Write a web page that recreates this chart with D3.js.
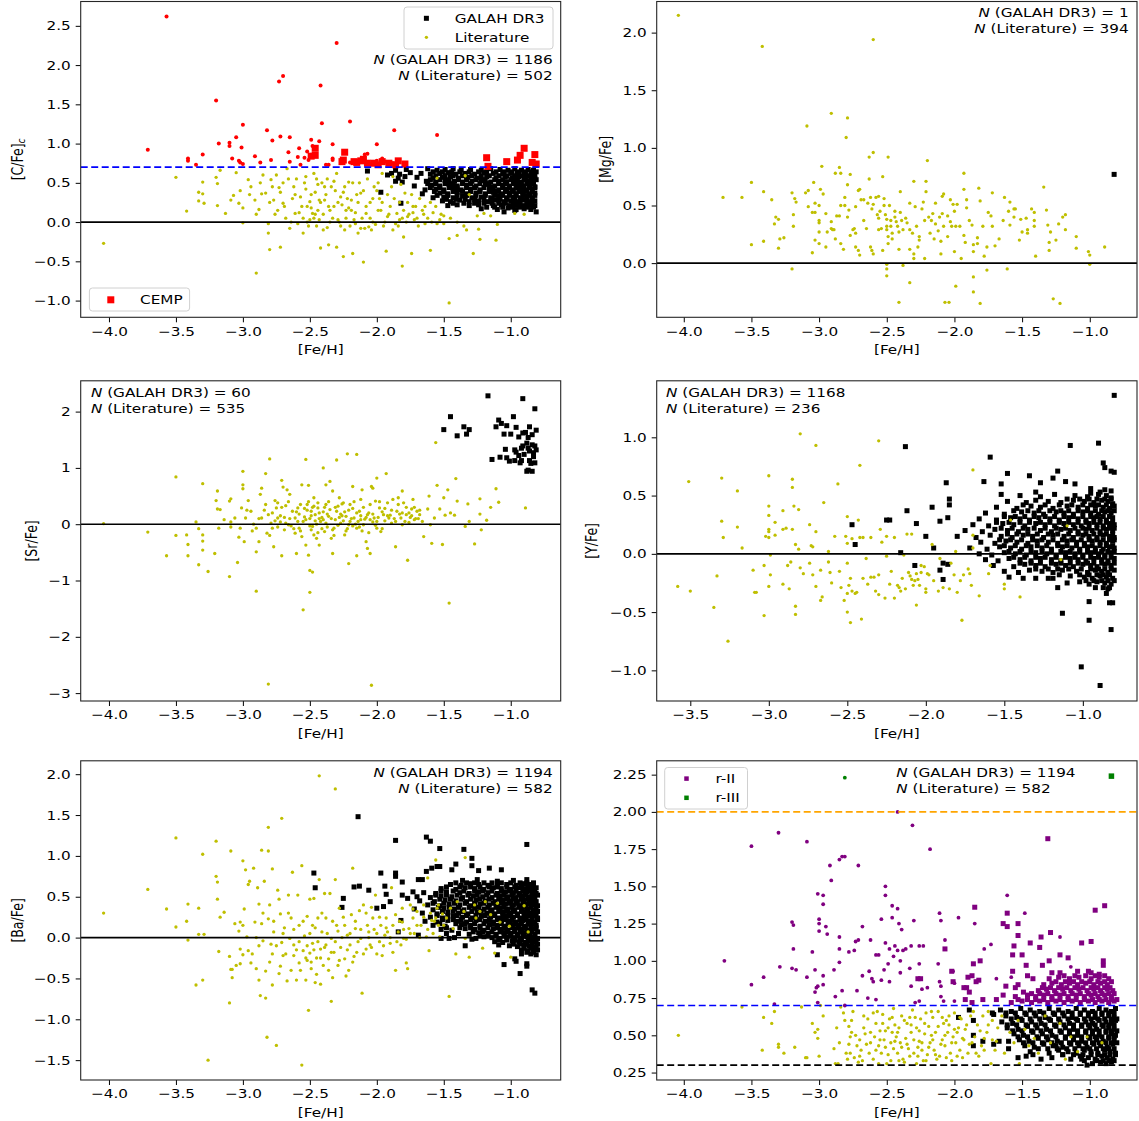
<!DOCTYPE html>
<html><head><meta charset="utf-8">
<script src="https://cdn.jsdelivr.net/npm/d3@7"></script>
<style>body{margin:0;background:#fff}svg{display:block}</style>
</head><body><svg id="chart" width="1139" height="1121"></svg>
<script>
// ---------------- DATA ([Fe/H], [X/Fe]) ----------------
const cYellow=[[-4.04,-0.27],[-3.50,0.57],[-3.30,0.51],[-3.33,0.38],[-3.30,0.36],[-3.33,0.27],[-3.29,0.24],[-3.42,0.14],[-3.20,0.57],[-3.19,0.49],[-3.19,0.21],[-3.17,0.66],[-3.13,0.11],[-3.09,0.28],[-3.07,0.34],[-3.05,0.63],[-3.03,0.24],[-3.02,0.40],[-3.00,-0.01],[-2.96,0.54],[-2.94,0.45],[-3.00,0.18],[-2.90,-0.65],[-2.91,0.28],[-2.88,0.16],[-2.87,0.50],[-2.86,0.36],[-2.81,-0.02],[-2.81,-0.14],[-2.83,0.37],[-2.80,-0.35],[-2.79,0.54],[-2.77,0.28],[-2.75,0.60],[-2.73,0.44],[-2.72,-0.32],[-2.70,0.24],[-2.67,0.68],[-2.65,-0.08],[-2.62,0.45],[-2.61,0.11],[-2.59,-0.02],[-2.57,0.32],[-2.55,-0.14],[-2.53,0.58],[-2.52,0.20],[-2.50,0.26],[-2.50,0.03],[-2.48,0.11],[-2.47,0.62],[-2.46,0.38],[-2.44,0.15],[-2.43,0.03],[-2.42,-0.33],[-2.41,0.50],[-2.39,0.28],[-2.37,-0.07],[-2.36,-0.29],[-2.34,0.45],[-2.32,0.20],[-2.30,-0.32],[-2.29,0.03],[-2.27,0.32],[-2.25,-0.44],[-2.24,-0.10],[-2.23,0.15],[-2.21,0.51],[-2.19,0.28],[-2.18,-0.40],[-2.17,0.03],[-2.14,-0.14],[-2.12,0.37],[-2.10,-0.51],[-2.08,0.11],[-2.06,-0.06],[-2.04,-0.10],[-2.02,0.45],[-1.99,0.15],[-1.96,0.62],[-1.93,-0.37],[-1.92,0.07],[-1.89,0.45],[-1.88,-0.10],[-1.85,0.11],[-1.83,0.03],[-1.81,-0.56],[-1.80,-0.19],[-1.79,0.37],[-1.77,0.07],[-1.74,-0.40],[-1.73,0.20],[-1.72,0.03],[-1.66,0.15],[-1.64,-0.02],[-1.60,-0.36],[-1.56,0.20],[-1.53,0.03],[-1.50,-0.02],[-1.46,-0.21],[-1.46,-1.03],[-1.40,-0.17],[-1.33,-0.10],[-1.31,0.35],[-1.28,-0.40],[-1.24,-0.09],[-1.23,-0.22],[-1.20,0.11],[-1.11,-0.23],[-1.10,-0.03],[-0.97,0.11],[-1.34,0.59],[-1.55,0.56],[-2.55,0.05],[-2.52,0.00],[-2.47,0.05],[-2.45,-0.05],[-2.40,0.10],[-2.38,0.35],[-2.35,0.15],[-2.31,0.40],[-2.28,0.00],[-2.26,0.22],[-2.22,0.30],[-2.20,-0.05],[-2.16,0.12],[-2.13,0.50],[-2.11,0.05],[-2.09,-0.08],[-2.05,0.25],[-2.03,0.00],[-1.98,0.30],[-1.95,-0.05],[-1.90,0.20],[-1.86,-0.02],[-1.83,0.25],[-1.78,0.00],[-1.76,0.10],[-1.70,0.05],[-1.68,0.30],[-1.62,0.05],[-1.58,0.12],[-1.55,-0.02],[-1.50,0.08],[-2.95,0.35],[-2.90,0.10],[-2.85,0.60],[-2.78,0.45],[-2.74,0.15],[-2.70,0.50],[-2.68,0.05],[-2.63,0.30],[-2.60,0.55],[-2.58,0.12],[-2.53,0.42],[-2.49,0.18],[-2.44,0.48],[-2.42,0.25],[-2.37,0.55],[-2.33,0.05],[-2.30,0.62],[-2.24,0.45],[-2.19,0.15],[-2.15,0.35],[-2.07,0.55],[-2.00,0.40],[-1.97,0.15],[-1.92,0.35],[-1.88,0.58],[-1.82,0.48],[-1.80,0.15],[-1.74,0.35],[-1.71,0.20],[-1.65,0.10],[-1.60,0.25],[-1.52,0.10],[-1.45,0.05],[-1.40,0.00],[-1.35,-0.05],[-1.25,0.08],[-1.15,0.08],[-0.90,0.10]];
const cYellowMore=[[-2.80,0.25],[-2.76,0.10],[-2.72,0.38],[-2.69,0.20],[-2.66,0.55],[-2.64,0.00],[-2.61,0.35],[-2.56,0.20],[-2.54,0.50],[-2.51,-0.05],[-2.49,0.35],[-2.46,0.10],[-2.45,0.55],[-2.43,0.28],[-2.40,-0.10],[-2.39,0.45],[-2.36,0.20],[-2.35,0.00],[-2.32,0.52],[-2.29,0.25],[-2.27,-0.05],[-2.25,0.38],[-2.23,0.05],[-2.21,0.18],[-2.18,0.50],[-2.16,-0.02],[-2.14,0.25],[-2.12,-0.08],[-2.10,0.40],[-2.08,0.20],[-2.05,0.05],[-2.03,0.30],[-2.01,-0.03],[-1.99,0.50],[-1.96,0.25],[-1.94,0.00],[-1.91,0.10],[-1.87,0.30],[-1.84,-0.05],[-1.81,0.05],[-1.77,0.25],[-1.73,0.12],[-1.69,-0.05],[-1.64,0.20],[-1.59,0.00]];
const cBlack=[[-1.86,0.66],[-1.78,0.67],[-1.62,0.68],[-1.55,0.66],[-1.49,0.67],[-1.43,0.68],[-1.37,0.66],[-1.30,0.67],[-1.22,0.66],[-1.15,0.68],[-1.08,0.67],[-1.02,0.66],[-0.97,0.68],[-0.92,0.66],[-0.87,0.67],[-0.83,0.66],
[-1.89,0.62],[-1.83,0.61],[-1.75,0.63],[-1.67,0.62],[-1.60,0.61],[-1.53,0.62],[-1.47,0.63],[-1.41,0.61],[-1.34,0.62],[-1.27,0.61],[-1.20,0.63],[-1.13,0.62],[-1.06,0.61],[-1.00,0.62],[-0.95,0.63],[-0.90,0.61],[-0.85,0.62],[-0.82,0.60],
[-1.84,0.56],[-1.79,0.58],[-1.70,0.57],[-1.58,0.56],[-1.51,0.57],[-1.45,0.58],[-1.39,0.56],[-1.32,0.57],[-1.25,0.56],[-1.18,0.58],[-1.11,0.56],[-1.04,0.57],[-0.99,0.56],[-0.94,0.58],[-0.89,0.56],[-0.85,0.57],[-0.82,0.55],
[-1.81,0.51],[-1.63,0.52],[-1.56,0.51],[-1.49,0.53],[-1.42,0.52],[-1.36,0.51],[-1.29,0.52],[-1.22,0.53],[-1.15,0.51],[-1.09,0.52],[-1.03,0.51],[-0.97,0.53],[-0.92,0.51],[-0.87,0.52],[-0.83,0.50],
[-1.72,0.46],[-1.59,0.47],[-1.53,0.46],[-1.46,0.48],[-1.40,0.46],[-1.33,0.47],[-1.26,0.46],[-1.19,0.48],[-1.12,0.46],[-1.06,0.47],[-1.01,0.46],[-0.95,0.48],[-0.90,0.46],[-0.86,0.47],[-0.82,0.45],
[-1.64,0.41],[-1.56,0.42],[-1.50,0.41],[-1.43,0.43],[-1.37,0.41],[-1.30,0.42],[-1.23,0.41],[-1.16,0.43],[-1.09,0.41],[-1.03,0.42],[-0.98,0.41],[-0.93,0.43],[-0.88,0.41],[-0.84,0.42],
[-1.66,0.36],[-1.53,0.37],[-1.47,0.36],[-1.40,0.38],[-1.33,0.36],[-1.26,0.37],[-1.19,0.36],[-1.13,0.38],[-1.07,0.36],[-1.01,0.37],[-0.96,0.36],[-0.91,0.38],[-0.86,0.36],[-0.82,0.37],
[-1.58,0.31],[-1.50,0.32],[-1.43,0.31],[-1.36,0.33],[-1.29,0.31],[-1.22,0.32],[-1.15,0.31],[-1.09,0.33],[-1.03,0.31],[-0.98,0.32],[-0.93,0.31],[-0.88,0.33],[-0.84,0.31],
[-1.51,0.27],[-1.45,0.26],[-1.38,0.28],[-1.31,0.26],[-1.24,0.27],[-1.17,0.26],[-1.11,0.28],[-1.05,0.26],[-1.00,0.27],[-0.95,0.26],[-0.90,0.28],[-0.86,0.26],[-0.82,0.27],
[-1.47,0.21],[-1.40,0.22],[-1.31,0.21],[-1.24,0.22],[-1.13,0.21],[-1.07,0.22],[-1.01,0.21],[-0.96,0.22],[-0.91,0.21],[-0.86,0.22],[-0.82,0.21],
[-1.22,0.17],[-1.10,0.16],[-1.02,0.18],[-0.96,0.16],[-0.90,0.17],[-0.85,0.16],[-1.05,0.13],[-0.81,0.13],[-0.97,0.15],[-1.97,0.38],[-1.82,0.24],[-2.07,0.65],[-1.92,0.60],[-1.86,0.52]];
const cBlackFill=[[-1.58,0.64],[-1.51,0.64],[-1.44,0.64],[-1.38,0.64],[-1.31,0.64],[-1.24,0.64],[-1.18,0.64],[-1.11,0.64],[-1.05,0.64],[-0.99,0.64],[-0.94,0.64],[-0.89,0.64],[-0.84,0.64],[-0.81,0.64],
[-1.56,0.59],[-1.49,0.59],[-1.43,0.59],[-1.36,0.59],[-1.29,0.59],[-1.22,0.59],[-1.16,0.59],[-1.09,0.59],[-1.03,0.59],[-0.97,0.59],[-0.92,0.59],[-0.87,0.59],[-0.83,0.59],
[-1.60,0.54],[-1.53,0.54],[-1.46,0.54],[-1.39,0.54],[-1.33,0.54],[-1.26,0.54],[-1.19,0.54],[-1.12,0.54],[-1.06,0.54],[-1.00,0.54],[-0.95,0.54],[-0.90,0.54],[-0.85,0.54],[-0.81,0.54],
[-1.62,0.49],[-1.56,0.49],[-1.49,0.49],[-1.43,0.49],[-1.36,0.49],[-1.30,0.49],[-1.23,0.49],[-1.16,0.49],[-1.09,0.49],[-1.04,0.49],[-0.98,0.49],[-0.93,0.49],[-0.88,0.49],[-0.84,0.49],
[-1.60,0.44],[-1.53,0.44],[-1.46,0.44],[-1.40,0.44],[-1.33,0.44],[-1.27,0.44],[-1.20,0.44],[-1.13,0.44],[-1.06,0.44],[-1.01,0.44],[-0.96,0.44],[-0.91,0.44],[-0.86,0.44],[-0.82,0.44],
[-1.57,0.39],[-1.50,0.39],[-1.43,0.39],[-1.36,0.39],[-1.30,0.39],[-1.23,0.39],[-1.16,0.39],[-1.10,0.39],[-1.04,0.39],[-0.99,0.39],[-0.94,0.39],[-0.89,0.39],[-0.84,0.39],
[-1.55,0.34],[-1.47,0.34],[-1.40,0.34],[-1.33,0.34],[-1.26,0.34],[-1.19,0.34],[-1.12,0.34],[-1.06,0.34],[-1.01,0.34],[-0.96,0.34],[-0.91,0.34],[-0.86,0.34],[-0.82,0.34],
[-1.48,0.29],[-1.41,0.29],[-1.34,0.29],[-1.27,0.29],[-1.20,0.29],[-1.14,0.29],[-1.08,0.29],[-1.03,0.29],[-0.97,0.29],[-0.92,0.29],[-0.88,0.29],[-0.84,0.29],
[-1.43,0.24],[-1.35,0.24],[-1.27,0.24],[-1.20,0.24],[-1.14,0.24],[-1.09,0.24],[-1.04,0.24],[-0.98,0.24],[-0.93,0.24],[-0.88,0.24],[-0.84,0.24],
[-1.18,0.19],[-1.12,0.19],[-1.06,0.19],[-0.99,0.19],[-0.93,0.19],[-0.88,0.19],[-0.83,0.19]];
const cRedLit=[[-3.57,2.62],[-2.30,2.28],[-2.70,1.86],[-2.73,1.79],[-2.42,1.74],[-3.20,1.55],[-2.20,1.28],[-2.41,1.26],[-3.00,1.24],[-1.87,1.17],[-2.82,1.17],[-1.55,1.11],[-3.05,1.08],[-2.72,1.09],[-2.65,1.08],[-2.49,1.05],[-2.43,1.03],[-2.78,1.04],[-3.71,0.92],[-3.18,1.00],[-3.10,1.01],[-3.10,0.97],[-3.01,0.95],[-2.33,0.99],[-2.00,0.99],[-2.48,0.97],[-2.58,0.94],[-2.52,0.90],[-2.66,0.89],[-3.30,0.86],[-2.91,0.84],[-3.08,0.81],[-3.41,0.81],[-3.41,0.78],[-3.03,0.78],[-3.02,0.76],[-2.87,0.76],[-2.79,0.79],[-2.65,0.77],[-2.59,0.83],[-2.54,0.82],[-2.51,0.79],[-3.00,0.74],[-3.35,0.73],[-2.57,0.73],[-2.38,0.73],[-2.36,0.73],[-2.33,0.79],[-2.33,0.81],[-2.09,0.86],[-2.07,0.87],[-1.96,0.81],[-1.88,0.75],[-2.20,0.76],[-2.14,0.78],[-2.04,0.74],[-2.00,0.78],[-1.93,0.77]];
const cRedGalah=[[-2.46,0.94],[-2.46,0.85],[-2.49,0.84],[-2.24,0.89],[-2.25,0.79],[-2.26,0.77],[-2.17,0.77],[-2.12,0.78],[-2.07,0.75],[-2.02,0.75],[-1.96,0.77],[-1.91,0.75],[-1.84,0.78],[-1.79,0.74],[-1.18,0.82],[-1.17,0.71],[-1.03,0.77],[-0.95,0.79],[-0.93,0.85],[-0.90,0.94],[-0.82,0.86],[-0.84,0.76],[-0.81,0.74],[-2.10,0.80],[-2.15,0.76],[-1.99,0.73],[-1.86,0.73]];

const mgYellow=[[-4.04,2.15],[-3.42,1.88],[-2.60,1.94],[-2.91,1.30],[-2.79,1.26],[-3.09,1.19],[-2.80,1.09],[-2.60,0.96],[-2.63,0.92],[-2.49,0.92],[-2.20,0.89],[-2.98,0.84],[-2.85,0.83],[-2.88,0.78],[-2.84,0.78],[-2.77,0.77],[-1.93,0.78],[-2.63,0.73],[-2.53,0.75],[-2.30,0.71],[-2.21,0.71],[-3.50,0.70],[-3.04,0.70],[-1.34,0.66],[-3.71,0.57],[-3.57,0.57],[-3.41,0.62],[-3.35,0.55],[-3.20,0.61],[-3.18,0.56],[-3.17,0.53],[-3.32,0.40],[-3.30,0.38],[-3.33,0.34],[-3.29,0.21],[-3.26,0.22],[-3.30,0.13],[-3.41,0.19],[-3.50,0.16],[-3.19,0.42],[-3.19,0.32],[-3.20,-0.05],[-3.10,0.61],[-3.08,0.63],[-3.08,0.49],[-3.05,0.44],[-3.03,0.44],[-3.03,0.52],[-3.00,0.50],[-2.99,0.64],[-2.97,0.60],[-3.00,0.37],[-3.00,0.35],[-3.00,0.27],[-3.00,0.17],[-3.05,0.09],[-3.03,0.20],[-2.95,0.43],[-2.95,0.14],[-2.94,0.27],[-2.91,0.36],[-2.91,0.30],[-2.90,0.29],[-2.89,0.29],[-2.88,0.21],[-2.87,0.41],[-2.85,0.41],[-2.84,0.17],[-2.82,0.12],[-2.84,0.50],[-2.81,0.50],[-2.81,0.57],[-2.79,0.68],[-2.79,0.40],[-2.78,0.46],[-2.77,0.24],[-2.75,0.29],[-2.74,0.30],[-2.73,0.26],[-2.73,0.14],[-2.71,0.11],[-2.70,0.07],[-2.73,0.49],[-2.71,0.63],[-2.70,0.64],[-2.69,0.55],[-2.67,0.55],[-2.67,0.37],[-2.65,0.30],[-2.64,0.52],[-2.62,0.57],[-2.61,0.47],[-2.60,0.51],[-2.62,0.14],[-2.61,0.11],[-2.60,0.08],[-2.58,0.57],[-2.56,0.58],[-2.57,0.42],[-2.56,0.39],[-2.56,0.29],[-2.55,0.45],[-2.54,0.30],[-2.53,0.11],[-2.52,0.56],[-2.52,0.50],[-2.51,0.42],[-2.50,0.38],[-2.50,0.32],[-2.50,0.29],[-2.49,0.23],[-2.49,0.17],[-2.50,-0.01],[-2.50,-0.05],[-2.50,-0.11],[-2.48,0.50],[-2.47,0.37],[-2.47,0.32],[-2.46,0.26],[-2.46,0.21],[-2.44,0.45],[-2.44,0.40],[-2.43,0.36],[-2.42,0.32],[-2.41,0.27],[-2.41,0.12],[-2.41,-0.34],[-2.40,0.62],[-2.40,0.44],[-2.39,0.37],[-2.38,0.29],[-2.38,-0.02],[-2.36,0.39],[-2.35,0.35],[-2.33,0.12],[-2.33,-0.17],[-2.33,0.52],[-2.33,0.29],[-2.31,0.26],[-2.30,0.08],[-2.30,0.04],[-2.29,0.49],[-2.28,0.32],[-2.27,0.14],[-2.26,0.23],[-2.26,0.20],[-2.24,0.47],[-2.23,0.53],[-2.22,0.04],[-2.22,0.37],[-2.21,0.62],[-2.19,0.40],[-2.18,0.26],[-2.17,0.37],[-2.16,0.43],[-2.15,0.21],[-2.14,0.52],[-2.14,0.34],[-2.12,0.28],[-2.11,0.40],[-2.10,0.19],[-2.10,0.08],[-2.09,0.58],[-2.09,0.43],[-2.08,0.60],[-2.08,0.32],[-2.07,-0.34],[-2.04,-0.34],[-2.05,0.41],[-2.05,0.23],[-2.03,0.55],[-2.03,0.36],[-2.02,0.32],[-2.01,0.51],[-2.00,0.45],[-2.00,0.10],[-1.99,-0.20],[-1.99,0.32],[-1.98,0.51],[-1.96,0.32],[-1.95,0.04],[-1.93,0.24],[-1.93,0.64],[-1.92,0.18],[-1.91,0.55],[-1.91,0.48],[-1.89,0.37],[-1.87,0.33],[-1.86,0.16],[-1.86,0.10],[-1.86,-0.12],[-1.86,-0.25],[-1.83,0.17],[-1.83,0.22],[-1.82,0.65],[-1.81,0.54],[-1.81,-0.35],[-1.79,0.32],[-1.78,0.06],[-1.76,-0.06],[-1.76,0.14],[-1.75,0.44],[-1.73,0.41],[-1.72,0.61],[-1.72,0.32],[-1.70,0.15],[-1.67,0.21],[-1.64,0.37],[-1.63,0.57],[-1.61,-0.05],[-1.60,0.45],[-1.59,0.53],[-1.59,0.33],[-1.56,0.47],[-1.56,0.40],[-1.55,0.47],[-1.52,0.20],[-1.51,0.38],[-1.50,0.27],[-1.47,0.39],[-1.46,0.26],[-1.46,0.29],[-1.43,0.47],[-1.41,0.37],[-1.40,0.06],[-1.41,0.44],[-1.41,0.32],[-1.32,0.46],[-1.31,0.33],[-1.30,0.18],[-1.30,0.11],[-1.29,0.27],[-1.27,-0.31],[-1.25,0.20],[-1.23,0.34],[-1.22,-0.35],[-1.20,0.40],[-1.18,0.42],[-1.18,0.29],[-1.10,0.23],[-1.10,0.13],[-1.01,0.10],[-1.00,0.07],[-1.00,-0.01],[-0.89,0.14]];
const mgBlack=[[-0.82,0.77]];

const srYellow=[[-4.04,0.01],[-3.71,-0.14],[-3.50,0.84],[-3.50,-0.20],[-3.57,-0.56],[-3.42,-0.19],[-3.41,-0.36],[-3.41,-0.56],[-3.35,0.04],[-3.33,-0.08],[-3.33,-0.72],[-3.30,0.72],[-3.30,-0.19],[-3.30,-0.30],[-3.30,-0.46],[-3.26,-0.84],[-3.21,-0.52],[-3.19,0.59],[-3.20,0.42],[-3.19,0.27],[-3.17,0.26],[-3.18,-0.07],[-3.14,0.08],[-3.10,-0.93],[-3.10,0.41],[-3.09,0.45],[-3.09,0.04],[-3.09,-0.05],[-3.04,-0.68],[-3.06,0.11],[-3.03,-0.23],[-3.02,-0.07],[-3.00,0.94],[-3.00,0.70],[-3.00,0.63],[-3.01,0.29],[-2.99,-0.31],[-2.98,0.11],[-2.96,0.42],[-2.94,0.23],[-2.92,0.00],[-2.90,-0.49],[-2.90,-1.19],[-2.90,-0.07],[-2.88,-0.31],[-2.87,0.53],[-2.86,0.64],[-2.86,0.11],[-2.83,0.35],[-2.83,0.90],[-2.82,-0.16],[-2.81,-2.84],[-2.80,1.16],[-2.81,0.17],[-2.79,0.02],[-2.78,-0.07],[-2.77,-0.40],[-2.75,0.29],[-2.74,0.38],[-2.74,0.11],[-2.72,0.04],[-2.71,-0.56],[-2.71,0.78],[-2.70,0.66],[-2.69,-0.10],[-2.68,0.33],[-2.67,0.61],[-2.66,-0.01],[-2.65,0.53],[-2.63,0.23],[-2.61,-0.16],[-2.61,0.11],[-2.60,-0.52],[-2.59,0.29],[-2.58,-0.07],[-2.56,0.70],[-2.54,0.13],[-2.53,1.15],[-2.53,-0.37],[-2.52,0.35],[-2.51,-0.55],[-2.51,0.69],[-2.50,-0.82],[-2.50,-1.21],[-2.49,0.23],[-2.48,-0.04],[-2.48,-0.85],[-2.47,-0.19],[-2.47,0.47],[-2.46,0.17],[-2.55,-1.52],[-2.44,0.29],[-2.43,-0.37],[-2.42,0.05],[-2.40,1.00],[-2.39,-0.13],[-2.38,0.35],[-2.38,0.70],[-2.36,0.14],[-2.35,0.76],[-2.34,-0.25],[-2.33,0.59],[-2.33,-0.52],[-2.32,-0.07],[-2.30,1.14],[-2.30,0.23],[-2.28,0.47],[-2.27,0.02],[-2.25,0.38],[-2.24,-0.19],[-2.22,1.25],[-2.23,0.14],[-2.21,-0.70],[-2.21,-0.01],[-2.20,0.35],[-2.18,0.67],[-2.17,0.11],[-2.15,1.24],[-2.15,-0.56],[-2.15,-0.07],[-2.13,0.23],[-2.12,0.44],[-2.11,0.61],[-2.10,-0.01],[-2.08,-0.31],[-2.07,0.17],[-2.07,-0.43],[-2.05,-0.52],[-2.04,-2.86],[-2.04,0.67],[-2.03,0.64],[-2.02,0.11],[-2.01,0.41],[-2.00,0.82],[-2.00,-0.07],[-1.98,0.29],[-1.97,-0.13],[-1.95,0.17],[-1.93,0.90],[-1.92,0.38],[-1.91,0.11],[-1.89,0.02],[-1.88,0.44],[-1.86,-0.40],[-1.85,0.23],[-1.84,0.47],[-1.82,0.11],[-1.81,-0.01],[-1.81,0.59],[-1.80,0.38],[-1.78,0.17],[-1.77,-0.64],[-1.76,0.20],[-1.74,0.27],[-1.73,0.44],[-1.72,0.08],[-1.70,0.23],[-1.68,0.17],[-1.65,-0.22],[-1.62,0.27],[-1.61,0.50],[-1.60,-0.01],[-1.59,-0.34],[-1.57,0.11],[-1.56,1.45],[-1.55,0.69],[-1.53,0.27],[-1.51,-0.36],[-1.50,0.47],[-1.49,0.16],[-1.47,0.61],[-1.46,-1.40],[-1.45,0.20],[-1.42,0.16],[-1.41,0.81],[-1.40,0.41],[-1.34,-0.04],[-1.32,0.36],[-1.31,0.05],[-1.27,-0.35],[-1.23,0.45],[-1.23,0.18],[-1.22,-0.10],[-1.18,0.07],[-1.15,0.30],[-1.11,0.63],[-1.09,0.39],[-0.89,0.29],[-2.58,0.18],[-2.55,0.05],[-2.52,0.25],[-2.50,0.10],[-2.47,0.32],[-2.45,0.00],[-2.43,0.20],[-2.41,0.12],[-2.39,0.30],[-2.37,-0.05],[-2.35,0.26],[-2.31,0.08],[-2.29,0.32],[-2.26,0.15],[-2.24,0.22],[-2.20,0.05],[-2.18,0.28],[-2.16,0.00],[-2.12,0.15],[-2.09,0.09],[-2.06,0.20],[-2.03,0.04],[-1.99,0.12],[-1.96,0.22],[-1.94,0.06],[-1.90,0.16],[-1.87,0.10],[-1.83,0.18],[-1.79,0.05],[-1.75,0.12],[-1.72,0.30],[-1.69,0.10],[-2.65,0.10],[-2.68,0.02],[-2.72,0.15],[-2.76,0.06],[-2.62,-0.08],[-2.57,-0.12],[-2.49,-0.10],[-2.44,-0.15],[-2.40,0.08],[-2.33,-0.10],[-2.28,0.12],[-2.22,-0.08],[-2.14,0.05],[-2.11,-0.12],[-2.05,0.08],[-2.01,-0.02]];
const srYellowMore=[[-2.78,0.20],[-2.74,-0.05],[-2.71,0.30],[-2.69,0.12],[-2.66,0.40],[-2.64,-0.03],[-2.60,0.22],[-2.59,0.05],[-2.57,0.35],[-2.56,-0.22],[-2.54,0.28],[-2.53,0.08],[-2.51,0.40],[-2.50,-0.03],[-2.49,0.15],[-2.48,0.30],[-2.46,0.06],[-2.45,-0.25],[-2.44,0.38],[-2.43,0.10],[-2.41,-0.08],[-2.40,0.22],[-2.38,0.02],[-2.37,0.18],[-2.36,0.40],[-2.34,0.10],[-2.32,-0.20],[-2.31,0.30],[-2.29,-0.02],[-2.27,0.18],[-2.26,0.36],[-2.25,0.06],[-2.23,-0.12],[-2.21,0.25],[-2.19,0.10],[-2.18,-0.03],[-2.17,0.40],[-2.15,0.20],[-2.13,-0.05],[-2.12,0.08],[-2.10,0.30],[-2.08,0.12],[-2.06,-0.15],[-2.05,0.35],[-2.03,0.18],[-2.00,0.05],[-1.98,0.40],[-1.96,-0.08],[-1.94,0.28],[-1.92,0.15],[-1.89,0.25],[-1.86,0.05],[-1.84,0.35],[-1.81,0.20],[-1.78,0.30],[-1.76,0.03],[-1.74,0.15],[-1.71,0.10],[-1.68,0.25],[-1.66,0.05],[-2.88,0.10],[-2.84,0.25],[-2.93,-0.12],[-2.97,0.25],[-2.80,-0.20],[-2.76,0.42]];
const srBlack=[[-1.17,2.28],[-0.91,2.23],[-0.82,2.05],[-1.45,1.91],[-0.98,1.91],[-1.09,1.85],[-1.07,1.79],[-1.11,1.73],[-1.35,1.73],[-1.31,1.68],[-1.50,1.68],[-1.03,1.75],[-0.96,1.72],[-0.86,1.73],[-0.81,1.67],[-1.40,1.57],[-1.33,1.60],[-1.05,1.60],[-1.00,1.60],[-0.94,1.55],[-0.91,1.62],[-0.89,1.63],[-0.84,1.59],[-0.87,1.54],[-1.04,1.33],[-0.97,1.32],[-0.92,1.35],[-0.88,1.44],[-0.84,1.41],[-0.82,1.39],[-0.86,1.30],[-0.83,1.27],[-0.81,1.32],[-0.90,1.24],[-0.94,1.22],[-1.03,1.18],[-1.08,1.19],[-1.14,1.15],[-1.01,1.12],[-0.97,1.13],[-0.92,1.13],[-0.86,1.13],[-0.82,1.09],[-0.85,1.08],[-0.87,0.96],[-0.84,0.94],[-0.88,0.94],[-0.96,1.28],[-0.91,1.39],[-0.87,1.35],[-0.83,1.20],[-0.93,1.09]];

const yYellow=[[-3.51,0.62],[-3.58,-0.28],[-3.50,-0.32],[-3.35,-0.46],[-3.33,-0.19],[-3.30,0.65],[-3.30,0.28],[-3.29,0.14],[-3.26,-0.75],[-3.20,0.23],[-3.20,0.54],[-3.17,0.05],[-3.10,-0.14],[-3.09,-0.33],[-3.08,-0.33],[-3.03,-0.53],[-3.03,-0.10],[-3.02,0.15],[-3.00,0.67],[-3.00,0.41],[-3.00,0.33],[-3.00,0.21],[-3.00,0.19],[-3.00,0.14],[-2.99,-0.01],[-2.99,-0.18],[-3.00,-0.28],[-2.96,0.27],[-2.96,0.16],[-2.91,0.37],[-2.91,-0.26],[-2.91,0.21],[-2.89,0.22],[-2.88,-0.10],[-2.87,-0.30],[-2.86,-0.07],[-2.85,0.64],[-2.85,0.57],[-2.85,0.21],[-2.84,0.41],[-2.83,0.08],[-2.83,-0.45],[-2.83,-0.52],[-2.81,0.38],[-2.81,0.04],[-2.80,1.03],[-2.80,-0.12],[-2.78,-0.17],[-2.74,-0.08],[-2.74,0.25],[-2.73,0.07],[-2.72,0.06],[-2.72,-0.18],[-2.70,0.93],[-2.70,0.19],[-2.70,-0.28],[-2.67,-0.14],[-2.67,-0.40],[-2.66,-0.37],[-2.65,0.44],[-2.62,0.02],[-2.62,-0.07],[-2.61,-0.16],[-2.60,-0.25],[-2.58,0.15],[-2.56,0.60],[-2.55,-0.15],[-2.54,-0.29],[-2.52,-0.40],[-2.51,0.15],[-2.50,0.32],[-2.50,0.09],[-2.50,-0.08],[-2.50,-0.50],[-2.50,-0.34],[-2.49,-0.27],[-2.48,-0.59],[-2.48,-0.21],[-2.47,0.13],[-2.47,-0.32],[-2.45,-0.34],[-2.44,-0.33],[-2.43,0.29],[-2.42,0.14],[-2.42,0.76],[-2.41,-0.56],[-2.40,-0.21],[-2.40,0.14],[-2.38,-0.04],[-2.37,-0.26],[-2.35,-0.20],[-2.35,0.14],[-2.33,-0.20],[-2.32,-0.32],[-2.30,-0.18],[-2.30,-0.35],[-2.30,0.97],[-2.29,0.21],[-2.28,0.10],[-2.26,-0.38],[-2.25,-0.02],[-2.25,0.15],[-2.23,-0.26],[-2.22,-0.15],[-2.20,0.14],[-2.20,-0.38],[-2.18,-0.27],[-2.17,-0.29],[-2.16,-0.32],[-2.15,-0.21],[-2.14,-0.01],[-2.13,-0.30],[-2.12,0.17],[-2.11,-0.16],[-2.10,-0.19],[-2.09,0.17],[-2.09,-0.22],[-2.08,-0.27],[-2.07,-0.23],[-2.06,-0.17],[-2.06,-0.44],[-2.05,-0.22],[-2.04,-0.27],[-2.03,-0.16],[-2.03,-0.10],[-2.01,-0.11],[-2.00,-0.30],[-2.00,-0.33],[-1.99,-0.17],[-1.98,-0.18],[-1.96,0.08],[-1.95,-0.23],[-1.92,-0.32],[-1.91,-0.04],[-1.89,-0.29],[-1.85,-0.30],[-1.84,-0.08],[-1.82,-0.18],[-1.81,0.02],[-1.80,-0.33],[-1.78,-0.23],[-1.77,-0.57],[-1.76,-0.18],[-1.73,-0.13],[-1.72,-0.17],[-1.71,-0.27],[-1.70,0.72],[-1.70,0.05],[-1.70,0.16],[-1.66,-0.36],[-1.60,-0.17],[-1.59,-0.10],[-1.50,-0.26],[-1.50,-0.30],[-1.46,0.29],[-1.40,-0.37],[-1.10,0.24],[-1.14,-0.05]];
const yBlack=[[-2.13,0.92],[-1.59,0.83],[-1.08,0.93],[-0.90,0.95],[-0.80,1.36],[-0.87,0.78],[-0.86,0.74],[-0.82,0.71],[-0.80,0.70],[-1.87,0.61],[-1.63,0.62],[-1.48,0.69],[-1.34,0.67],[-1.27,0.61],[-1.16,0.71],[-1.19,0.65],[-1.11,0.62],[-1.05,0.60],[-0.95,0.56],[-0.89,0.53],[-1.52,0.60],[-1.52,0.51],[-1.85,0.42],[-1.85,0.47],[-1.96,0.40],[-2.12,0.37],[-2.25,0.29],[-2.23,0.29],[-2.47,0.25],[-2.45,0.08],[-2.06,0.26],[-2.00,0.15],[-1.95,0.05],[-1.91,0.28],[-1.86,0.31],[-2.16,0.01],[-2.07,-0.10],[-1.91,-0.14],[-1.89,-0.22],[-1.89,-0.08],[-1.86,-0.09],[-1.13,-0.51],[-0.96,-0.41],[-0.96,-0.57],[-1.01,-0.97],[-0.89,-1.13],[-0.82,-0.65],[-0.83,-0.42],[-0.81,-0.42],[-0.85,-0.34],[-0.84,-0.30],[-1.38,-0.21],[-1.30,-0.21],[-1.19,-0.21],[-1.16,-0.29],[-1.02,-0.24],
[-0.86,0.55],[-0.82,0.54],[-1.30,0.53],[-0.95,0.52],
[-1.40,0.50],[-1.27,0.49],[-1.18,0.51],[-1.05,0.50],[-0.97,0.49],[-0.90,0.51],[-0.85,0.50],[-0.82,0.48],
[-1.48,0.45],[-1.36,0.44],[-1.30,0.46],[-1.22,0.45],[-1.14,0.44],[-1.06,0.46],[-0.99,0.45],[-0.93,0.44],[-0.88,0.46],[-0.84,0.45],[-0.81,0.43],
[-1.55,0.40],[-1.42,0.39],[-1.33,0.41],[-1.27,0.40],[-1.19,0.39],[-1.10,0.41],[-1.03,0.40],[-0.97,0.39],[-0.92,0.41],[-0.87,0.40],[-0.83,0.39],[-0.80,0.41],
[-1.62,0.35],[-1.50,0.34],[-1.39,0.36],[-1.31,0.35],[-1.25,0.34],[-1.17,0.36],[-1.12,0.35],[-1.06,0.34],[-1.00,0.36],[-0.95,0.35],[-0.90,0.34],[-0.86,0.36],[-0.82,0.35],
[-1.66,0.30],[-1.55,0.29],[-1.46,0.31],[-1.40,0.30],[-1.34,0.29],[-1.28,0.31],[-1.21,0.30],[-1.15,0.29],[-1.09,0.31],[-1.03,0.30],[-0.98,0.29],[-0.93,0.31],[-0.89,0.30],[-0.85,0.29],[-0.81,0.31],
[-1.70,0.25],[-1.60,0.24],[-1.51,0.26],[-1.44,0.25],[-1.37,0.24],[-1.30,0.26],[-1.24,0.25],[-1.18,0.24],[-1.12,0.26],[-1.06,0.25],[-1.01,0.24],[-0.96,0.26],[-0.91,0.25],[-0.87,0.24],[-0.83,0.26],[-0.80,0.25],
[-1.75,0.20],[-1.64,0.19],[-1.56,0.21],[-1.48,0.20],[-1.41,0.19],[-1.35,0.21],[-1.27,0.20],[-1.20,0.19],[-1.14,0.21],[-1.08,0.20],[-1.03,0.19],[-0.98,0.21],[-0.94,0.20],[-0.89,0.19],[-0.85,0.21],[-0.81,0.20],
[-1.80,0.15],[-1.68,0.14],[-1.59,0.16],[-1.52,0.15],[-1.45,0.14],[-1.38,0.16],[-1.32,0.15],[-1.25,0.14],[-1.19,0.16],[-1.12,0.15],[-1.06,0.14],[-1.00,0.16],[-0.96,0.15],[-0.91,0.14],[-0.87,0.16],[-0.83,0.15],[-0.80,0.14],
[-1.65,0.10],[-1.56,0.09],[-1.49,0.11],[-1.42,0.10],[-1.35,0.09],[-1.29,0.11],[-1.22,0.10],[-1.16,0.09],[-1.10,0.11],[-1.04,0.10],[-0.99,0.09],[-0.94,0.11],[-0.89,0.10],[-0.85,0.09],[-0.81,0.11],
[-1.72,0.05],[-1.61,0.04],[-1.53,0.06],[-1.46,0.05],[-1.39,0.04],[-1.33,0.06],[-1.26,0.05],[-1.20,0.04],[-1.13,0.06],[-1.07,0.05],[-1.02,0.04],[-0.97,0.06],[-0.92,0.05],[-0.87,0.04],[-0.83,0.06],[-0.80,0.05],
[-1.66,0.00],[-1.58,-0.01],[-1.50,0.01],[-1.43,0.00],[-1.36,-0.01],[-1.30,0.01],[-1.23,0.00],[-1.17,-0.01],[-1.11,0.01],[-1.05,0.00],[-1.00,-0.01],[-0.95,0.01],[-0.90,0.00],[-0.86,-0.01],[-0.82,0.01],
[-1.62,-0.05],[-1.54,-0.06],[-1.47,-0.04],[-1.40,-0.05],[-1.33,-0.06],[-1.27,-0.04],[-1.20,-0.05],[-1.14,-0.06],[-1.08,-0.04],[-1.03,-0.05],[-0.98,-0.06],[-0.93,-0.04],[-0.88,-0.05],[-0.84,-0.06],[-0.80,-0.04],
[-1.57,-0.10],[-1.44,-0.11],[-1.37,-0.09],[-1.30,-0.10],[-1.24,-0.11],[-1.17,-0.09],[-1.11,-0.10],[-1.06,-0.11],[-1.00,-0.09],[-0.95,-0.10],[-0.91,-0.11],[-0.86,-0.09],[-0.82,-0.10],
[-1.50,-0.15],[-1.41,-0.16],[-1.34,-0.14],[-1.26,-0.15],[-1.19,-0.16],[-1.13,-0.14],[-1.04,-0.15],[-0.97,-0.16],[-0.92,-0.14],[-0.88,-0.15],[-0.84,-0.16],[-0.80,-0.14],
[-1.47,-0.20],[-1.22,-0.21],[-1.08,-0.19],[-0.99,-0.20],[-0.94,-0.21],[-0.89,-0.19],[-0.85,-0.20],[-0.81,-0.21],
[-1.10,-0.25],[-0.96,-0.26],[-0.91,-0.24],[-0.86,-0.25],[-0.82,-0.26]];
const yBlackFill=[[-1.10,0.47],[-1.02,0.47],[-0.96,0.47],[-0.91,0.47],[-0.86,0.47],[-0.82,0.47],
[-1.38,0.42],[-1.24,0.42],[-1.15,0.42],[-1.07,0.42],[-1.00,0.42],[-0.95,0.42],[-0.90,0.42],[-0.85,0.42],[-0.81,0.42],
[-1.44,0.37],[-1.35,0.37],[-1.28,0.37],[-1.21,0.37],[-1.14,0.37],[-1.09,0.37],[-1.03,0.37],[-0.97,0.37],[-0.92,0.37],[-0.88,0.37],[-0.84,0.37],[-0.80,0.37],
[-1.50,0.32],[-1.43,0.32],[-1.37,0.32],[-1.31,0.32],[-1.24,0.32],[-1.18,0.32],[-1.12,0.32],[-1.06,0.32],[-1.00,0.32],[-0.95,0.32],[-0.91,0.32],[-0.87,0.32],[-0.83,0.32],
[-1.55,0.27],[-1.47,0.27],[-1.40,0.27],[-1.34,0.27],[-1.27,0.27],[-1.21,0.27],[-1.15,0.27],[-1.09,0.27],[-1.03,0.27],[-0.98,0.27],[-0.93,0.27],[-0.89,0.27],[-0.85,0.27],[-0.81,0.27],
[-1.52,0.22],[-1.45,0.22],[-1.38,0.22],[-1.31,0.22],[-1.24,0.22],[-1.17,0.22],[-1.11,0.22],[-1.05,0.22],[-1.00,0.22],[-0.96,0.22],[-0.91,0.22],[-0.87,0.22],[-0.83,0.22],[-0.80,0.22],
[-1.48,0.17],[-1.42,0.17],[-1.35,0.17],[-1.29,0.17],[-1.22,0.17],[-1.16,0.17],[-1.09,0.17],[-1.03,0.17],[-0.98,0.17],[-0.93,0.17],[-0.89,0.17],[-0.85,0.17],[-0.81,0.17],
[-1.53,0.12],[-1.46,0.12],[-1.39,0.12],[-1.32,0.12],[-1.26,0.12],[-1.19,0.12],[-1.13,0.12],[-1.07,0.12],[-1.01,0.12],[-0.96,0.12],[-0.91,0.12],[-0.87,0.12],[-0.83,0.12],[-0.80,0.12],
[-1.50,0.07],[-1.43,0.07],[-1.36,0.07],[-1.29,0.07],[-1.23,0.07],[-1.16,0.07],[-1.10,0.07],[-1.04,0.07],[-0.99,0.07],[-0.94,0.07],[-0.89,0.07],[-0.85,0.07],[-0.81,0.07],
[-1.47,0.02],[-1.40,0.02],[-1.33,0.02],[-1.26,0.02],[-1.20,0.02],[-1.14,0.02],[-1.08,0.02],[-1.02,0.02],[-0.97,0.02],[-0.92,0.02],[-0.88,0.02],[-0.84,0.02],[-0.80,0.02],
[-1.44,-0.03],[-1.37,-0.03],[-1.30,-0.03],[-1.24,-0.03],[-1.17,-0.03],[-1.11,-0.03],[-1.05,-0.03],[-1.00,-0.03],[-0.95,-0.03],[-0.90,-0.03],[-0.86,-0.03],[-0.82,-0.03],
[-1.40,-0.08],[-1.33,-0.08],[-1.27,-0.08],[-1.20,-0.08],[-1.14,-0.08],[-1.08,-0.08],[-1.03,-0.08],[-0.97,-0.08],[-0.93,-0.08],[-0.88,-0.08],[-0.84,-0.08],[-0.80,-0.08],
[-1.30,-0.13],[-1.22,-0.13],[-1.16,-0.13],[-1.09,-0.13],[-1.01,-0.13],[-0.95,-0.13],[-0.90,-0.13],[-0.86,-0.13],[-0.82,-0.13],
[-1.15,-0.18],[-1.02,-0.18],[-0.96,-0.18],[-0.91,-0.18],[-0.87,-0.18],[-0.83,-0.18],
[-0.98,-0.23],[-0.93,-0.23],[-0.88,-0.23],[-0.84,-0.23],[-0.80,-0.23],[-0.92,-0.29],[-0.87,-0.29],[-0.83,-0.29]];

const baYellow=[[-4.04,0.30],[-3.71,0.59],[-3.57,0.35],[-3.50,1.22],[-3.50,0.13],[-3.42,0.20],[-3.41,0.41],[-3.41,-0.03],[-3.35,-0.58],[-3.33,0.36],[-3.33,0.04],[-3.30,1.02],[-3.30,-0.52],[-3.29,0.04],[-3.26,-1.50],[-3.20,1.18],[-3.20,0.75],[-3.19,0.68],[-3.19,0.47],[-3.18,-0.17],[-3.17,0.25],[-3.14,0.31],[-3.10,-0.23],[-3.10,-0.80],[-3.09,1.06],[-3.09,-0.39],[-3.08,-0.39],[-3.08,-0.49],[-3.06,0.17],[-3.05,-0.34],[-3.03,0.08],[-3.02,0.19],[-3.02,-0.14],[-3.02,-0.32],[-3.00,0.94],[-3.00,0.15],[-3.00,-0.21],[-2.99,0.35],[-2.98,0.83],[-2.97,0.01],[-2.96,0.65],[-2.96,-0.16],[-2.95,0.69],[-2.94,-0.31],[-2.92,0.85],[-2.91,0.19],[-2.90,-0.38],[-2.89,0.61],[-2.88,0.41],[-2.88,-0.52],[-2.87,-0.71],[-2.86,1.07],[-2.86,0.17],[-2.85,-0.04],[-2.84,0.69],[-2.83,-0.41],[-2.83,-0.74],[-2.82,-1.22],[-2.81,1.06],[-2.81,1.35],[-2.81,0.23],[-2.80,0.40],[-2.79,-0.08],[-2.78,-0.58],[-2.78,-0.20],[-2.78,0.84],[-2.77,0.07],[-2.75,-1.32],[-2.74,0.58],[-2.73,-0.44],[-2.73,0.47],[-2.72,0.29],[-2.71,-0.06],[-2.71,1.46],[-2.70,-0.22],[-2.69,0.12],[-2.67,-0.53],[-2.66,0.52],[-2.65,-0.01],[-2.64,0.24],[-2.63,0.80],[-2.62,-0.22],[-2.62,-0.09],[-2.60,-0.52],[-2.59,0.52],[-2.58,0.15],[-2.58,-0.31],[-2.56,0.88],[-2.56,-1.56],[-2.55,-0.16],[-2.54,0.02],[-2.53,-0.52],[-2.52,0.26],[-2.52,-0.28],[-2.51,-0.89],[-2.50,0.47],[-2.50,-0.19],[-2.49,-0.38],[-2.48,0.15],[-2.48,-0.07],[-2.47,0.48],[-2.46,-0.55],[-2.45,-0.25],[-2.44,0.24],[-2.43,0.71],[-2.43,1.98],[-2.42,-0.14],[-2.42,-0.57],[-2.41,0.07],[-2.40,-0.34],[-2.39,0.54],[-2.38,-0.09],[-2.38,0.24],[-2.36,-0.26],[-2.35,0.54],[-2.34,-0.01],[-2.34,-0.78],[-2.33,-0.49],[-2.32,-0.18],[-2.31,0.71],[-2.31,1.82],[-2.30,0.15],[-2.29,-0.34],[-2.28,0.36],[-2.27,-0.12],[-2.25,0.25],[-2.24,-0.26],[-2.23,-0.47],[-2.22,0.03],[-2.21,-0.40],[-2.20,-0.09],[-2.19,0.28],[-2.18,0.85],[-2.17,-0.23],[-2.16,0.11],[-2.15,-0.18],[-2.13,0.33],[-2.12,-0.01],[-2.11,-0.68],[-2.10,0.40],[-2.08,-0.14],[-2.07,0.15],[-2.06,0.07],[-2.05,-0.09],[-2.04,0.37],[-2.03,0.24],[-2.01,0.52],[-2.00,-0.20],[-1.98,-0.05],[-1.97,0.15],[-1.96,-0.22],[-1.94,0.03],[-1.93,0.24],[-1.92,0.07],[-1.90,-0.07],[-1.89,0.61],[-1.88,-0.18],[-1.86,-0.40],[-1.86,0.28],[-1.84,0.07],[-1.82,-0.09],[-1.81,0.19],[-1.81,0.36],[-1.80,-0.01],[-1.78,-0.31],[-1.77,-0.38],[-1.76,0.11],[-1.75,0.40],[-1.73,0.24],[-1.72,0.05],[-1.70,0.32],[-1.67,0.15],[-1.65,0.40],[-1.63,0.01],[-1.62,0.73],[-1.61,-0.16],[-1.59,0.21],[-1.58,0.05],[-1.56,0.95],[-1.55,0.36],[-1.54,0.15],[-1.53,0.01],[-1.51,0.29],[-1.50,0.15],[-1.48,0.24],[-1.46,-0.72],[-1.45,0.36],[-1.43,0.11],[-1.41,-0.20],[-1.40,0.44],[-1.35,0.32],[-1.34,0.98],[-1.34,-0.01],[-1.31,-0.24],[-1.27,0.40],[-1.26,0.24],[-1.23,0.32],[-1.21,-0.13],[-1.19,0.44],[-1.15,0.28],[-1.12,-0.19],[-1.10,0.42],[-1.08,0.19],[-1.01,0.14],[-1.00,-0.24],[-0.90,0.39],[-0.87,0.07],[-1.56,0.24]];
const baYellowMore=[[-2.80,-0.30],[-2.77,0.20],[-2.75,-0.10],[-2.72,-0.35],[-2.70,0.05],[-2.68,-0.20],[-2.66,0.30],[-2.64,-0.40],[-2.62,0.10],[-2.60,-0.15],[-2.58,-0.05],[-2.57,-0.40],[-2.55,0.20],[-2.53,-0.25],[-2.52,-0.10],[-2.50,0.05],[-2.49,-0.30],[-2.47,-0.15],[-2.46,0.12],[-2.45,-0.45],[-2.44,-0.05],[-2.42,-0.25],[-2.41,0.30],[-2.39,-0.12],[-2.37,0.05],[-2.36,-0.40],[-2.34,-0.18],[-2.33,0.20],[-2.31,-0.05],[-2.29,0.08],[-2.28,-0.28],[-2.26,0.00],[-2.24,0.15],[-2.22,-0.15],[-2.20,0.05],[-2.18,-0.30],[-2.16,0.20],[-2.14,-0.05],[-2.12,0.10],[-2.10,-0.20],[-2.08,0.30],[-2.06,0.00],[-2.04,-0.12],[-2.02,0.10],[-2.00,0.05],[-1.98,0.25],[-1.95,-0.10],[-1.93,0.12],[-1.90,0.00],[-1.88,0.15],[-1.85,-0.05],[-1.83,0.20],[-1.80,0.10],[-1.78,-0.02],[-1.75,0.05],[-1.73,0.35],[-1.70,0.15],[-1.68,0.00],[-1.65,0.25],[-1.62,0.10],[-1.60,0.30],[-1.57,0.20],[-1.54,0.40],[-2.90,0.00],[-2.93,-0.20],[-2.85,0.30],[-2.88,-0.10]];
const baBlack=[[-2.14,1.48],[-1.86,1.19],[-1.63,1.23],[-1.60,1.18],[-1.53,1.09],[-1.35,1.08],[-1.29,0.97],[-0.88,1.14],[-1.63,0.81],[-1.59,0.85],[-1.55,0.87],[-1.53,0.87],[-1.44,0.83],[-1.41,0.90],[-1.29,0.88],[-1.24,0.82],[-1.16,0.85],[-1.07,0.83],[-1.97,0.79],[-1.86,0.79],[-1.86,0.75],[-1.81,0.68],[-2.47,0.79],[-2.46,0.61],[-2.17,0.62],[-2.13,0.63],[-2.06,0.58],[-2.25,0.48],[-2.26,0.37],[-1.94,0.63],[-2.00,0.36],[-1.95,0.38],[-1.90,0.44],[-1.93,0.53],[-1.82,0.21],[-1.84,0.07],[-1.81,0.52],[-1.77,0.48],[-1.73,0.56],[-1.69,0.71],[-1.66,0.71],[-1.69,0.03],[-1.09,-0.09],[-1.10,-0.21],[-1.05,-0.33],[-0.97,-0.26],[-0.93,-0.44],[-0.96,-0.29],[-0.88,-0.32],[-0.88,-0.35],[-0.84,-0.64],[-0.82,-0.68],[-0.92,-0.20],[-1.34,-0.10],[-1.29,-0.02],[-1.46,-0.01],[-1.52,-0.01],[-1.39,0.05],
[-1.36,0.70],[-1.25,0.71],[-1.10,0.69],[-0.98,0.70],[-0.88,0.71],
[-1.45,0.65],[-1.37,0.64],[-1.30,0.66],[-1.24,0.65],[-1.17,0.64],[-1.10,0.66],[-1.03,0.65],[-0.96,0.64],[-0.90,0.66],[-0.86,0.65],
[-1.52,0.60],[-1.41,0.59],[-1.34,0.61],[-1.27,0.60],[-1.20,0.59],[-1.13,0.61],[-1.07,0.60],[-1.00,0.59],[-0.94,0.61],[-0.89,0.60],[-0.84,0.59],[-0.81,0.61],
[-1.65,0.55],[-1.56,0.54],[-1.48,0.56],[-1.38,0.55],[-1.31,0.54],[-1.24,0.56],[-1.17,0.55],[-1.10,0.54],[-1.04,0.56],[-0.98,0.55],[-0.93,0.54],[-0.88,0.56],[-0.84,0.55],[-0.81,0.54],
[-1.70,0.50],[-1.60,0.49],[-1.52,0.51],[-1.44,0.50],[-1.36,0.49],[-1.28,0.51],[-1.21,0.50],[-1.14,0.49],[-1.08,0.51],[-1.02,0.50],[-0.96,0.49],[-0.91,0.51],[-0.86,0.50],[-0.82,0.49],
[-1.68,0.45],[-1.57,0.44],[-1.49,0.46],[-1.41,0.45],[-1.33,0.44],[-1.26,0.46],[-1.19,0.45],[-1.12,0.44],[-1.06,0.46],[-1.00,0.45],[-0.95,0.44],[-0.90,0.46],[-0.85,0.45],[-0.81,0.44],
[-1.62,0.40],[-1.53,0.39],[-1.46,0.41],[-1.38,0.40],[-1.30,0.39],[-1.23,0.41],[-1.16,0.40],[-1.10,0.39],[-1.04,0.41],[-0.98,0.40],[-0.93,0.39],[-0.88,0.41],[-0.84,0.40],[-0.80,0.39],
[-1.72,0.35],[-1.58,0.34],[-1.50,0.36],[-1.42,0.35],[-1.35,0.34],[-1.27,0.36],[-1.20,0.35],[-1.14,0.34],[-1.08,0.36],[-1.02,0.35],[-0.97,0.34],[-0.92,0.36],[-0.87,0.35],[-0.83,0.34],
[-1.66,0.30],[-1.55,0.29],[-1.47,0.31],[-1.39,0.30],[-1.32,0.29],[-1.25,0.31],[-1.18,0.30],[-1.12,0.29],[-1.06,0.31],[-1.00,0.30],[-0.95,0.29],[-0.90,0.31],[-0.85,0.30],[-0.81,0.29],
[-1.60,0.25],[-1.51,0.24],[-1.43,0.26],[-1.36,0.25],[-1.29,0.24],[-1.22,0.26],[-1.15,0.25],[-1.09,0.24],[-1.03,0.26],[-0.98,0.25],[-0.93,0.24],[-0.88,0.26],[-0.84,0.25],[-0.80,0.24],
[-1.64,0.20],[-1.55,0.19],[-1.47,0.21],[-1.40,0.20],[-1.33,0.19],[-1.26,0.21],[-1.19,0.20],[-1.13,0.19],[-1.07,0.21],[-1.01,0.20],[-0.96,0.19],[-0.91,0.21],[-0.86,0.20],[-0.82,0.19],
[-1.58,0.15],[-1.49,0.14],[-1.37,0.16],[-1.30,0.15],[-1.23,0.14],[-1.16,0.16],[-1.10,0.15],[-1.04,0.14],[-0.99,0.16],[-0.94,0.15],[-0.89,0.14],[-0.85,0.16],[-0.81,0.15],
[-1.52,0.10],[-1.44,0.09],[-1.34,0.11],[-1.27,0.10],[-1.20,0.09],[-1.13,0.11],[-1.07,0.10],[-1.02,0.09],[-0.97,0.11],[-0.92,0.10],[-0.87,0.09],[-0.83,0.11],
[-1.48,0.05],[-1.31,0.04],[-1.24,0.06],[-1.17,0.05],[-1.11,0.04],[-1.05,0.06],[-1.00,0.05],[-0.95,0.04],[-0.90,0.06],[-0.86,0.05],[-0.82,0.04],
[-1.42,0.00],[-1.26,-0.01],[-1.20,0.01],[-1.14,0.00],[-1.08,-0.01],[-1.03,0.01],[-0.98,0.00],[-0.93,-0.01],[-0.88,0.01],[-0.84,0.00],[-0.80,-0.01],
[-1.12,-0.05],[-1.06,-0.06],[-0.99,-0.04],[-0.94,-0.05],[-0.89,-0.06],[-0.85,-0.04],[-0.81,-0.05],
[-1.01,-0.10],[-0.95,-0.11],[-0.90,-0.09],[-0.86,-0.10],[-0.82,-0.11],
[-0.92,-0.15],[-0.87,-0.16],[-0.83,-0.14],[-0.80,-0.15],[-0.85,-0.20],[-0.81,-0.21]];
const baBlackFill=[[-1.41,0.67],[-1.33,0.67],[-1.27,0.67],[-1.20,0.67],[-1.14,0.67],[-1.07,0.67],[-1.00,0.67],[-0.93,0.67],[-0.88,0.67],[-0.83,0.67],
[-1.48,0.62],[-1.38,0.62],[-1.30,0.62],[-1.23,0.62],[-1.16,0.62],[-1.10,0.62],[-1.03,0.62],[-0.97,0.62],[-0.92,0.62],[-0.87,0.62],[-0.83,0.62],
[-1.52,0.57],[-1.43,0.57],[-1.35,0.57],[-1.27,0.57],[-1.21,0.57],[-1.14,0.57],[-1.07,0.57],[-1.01,0.57],[-0.96,0.57],[-0.91,0.57],[-0.86,0.57],[-0.82,0.57],
[-1.56,0.52],[-1.48,0.52],[-1.40,0.52],[-1.32,0.52],[-1.25,0.52],[-1.18,0.52],[-1.11,0.52],[-1.05,0.52],[-0.99,0.52],[-0.94,0.52],[-0.89,0.52],[-0.84,0.52],[-0.80,0.52],
[-1.53,0.47],[-1.45,0.47],[-1.37,0.47],[-1.30,0.47],[-1.23,0.47],[-1.16,0.47],[-1.09,0.47],[-1.03,0.47],[-0.98,0.47],[-0.92,0.47],[-0.87,0.47],[-0.83,0.47],
[-1.58,0.42],[-1.50,0.42],[-1.42,0.42],[-1.34,0.42],[-1.27,0.42],[-1.20,0.42],[-1.13,0.42],[-1.07,0.42],[-1.01,0.42],[-0.96,0.42],[-0.91,0.42],[-0.86,0.42],[-0.82,0.42],
[-1.54,0.37],[-1.46,0.37],[-1.39,0.37],[-1.31,0.37],[-1.24,0.37],[-1.17,0.37],[-1.11,0.37],[-1.05,0.37],[-0.99,0.37],[-0.94,0.37],[-0.89,0.37],[-0.85,0.37],[-0.81,0.37],
[-1.51,0.32],[-1.43,0.32],[-1.36,0.32],[-1.29,0.32],[-1.22,0.32],[-1.15,0.32],[-1.09,0.32],[-1.03,0.32],[-0.98,0.32],[-0.92,0.32],[-0.88,0.32],[-0.83,0.32],[-0.80,0.32],
[-1.55,0.27],[-1.47,0.27],[-1.40,0.27],[-1.33,0.27],[-1.26,0.27],[-1.19,0.27],[-1.12,0.27],[-1.06,0.27],[-1.01,0.27],[-0.95,0.27],[-0.90,0.27],[-0.86,0.27],[-0.82,0.27],
[-1.51,0.22],[-1.43,0.22],[-1.37,0.22],[-1.30,0.22],[-1.23,0.22],[-1.16,0.22],[-1.10,0.22],[-1.04,0.22],[-0.99,0.22],[-0.93,0.22],[-0.89,0.22],[-0.84,0.22],[-0.80,0.22],
[-1.53,0.17],[-1.41,0.17],[-1.34,0.17],[-1.27,0.17],[-1.20,0.17],[-1.13,0.17],[-1.07,0.17],[-1.02,0.17],[-0.96,0.17],[-0.92,0.17],[-0.87,0.17],[-0.83,0.17],
[-1.48,0.12],[-1.38,0.12],[-1.30,0.12],[-1.23,0.12],[-1.17,0.12],[-1.10,0.12],[-1.05,0.12],[-0.99,0.12],[-0.94,0.12],[-0.90,0.12],[-0.85,0.12],[-0.81,0.12],
[-1.28,0.07],[-1.21,0.07],[-1.14,0.07],[-1.08,0.07],[-1.03,0.07],[-0.97,0.07],[-0.93,0.07],[-0.88,0.07],[-0.84,0.07],[-0.80,0.07],
[-1.23,0.02],[-1.17,0.02],[-1.11,0.02],[-1.05,0.02],[-1.00,0.02],[-0.95,0.02],[-0.91,0.02],[-0.86,0.02],[-0.82,0.02],
[-1.09,-0.03],[-1.03,-0.03],[-0.97,-0.03],[-0.92,-0.03],[-0.87,-0.03],[-0.83,-0.03],
[-0.98,-0.08],[-0.93,-0.08],[-0.88,-0.08],[-0.84,-0.08],[-0.80,-0.08],[-0.90,-0.13],[-0.85,-0.13],[-0.81,-0.13],[-0.88,-0.18],[-0.83,-0.18]];

const euYellow=[[-4.04,0.50],[-3.57,0.69],[-3.41,0.62],[-3.42,0.40],[-3.35,0.58],[-3.33,0.66],[-3.30,0.44],[-3.30,0.42],[-3.26,0.38],[-3.18,0.42],[-3.13,0.69],[-3.10,0.35],[-3.09,0.35],[-3.05,0.58],[-3.03,0.52],[-3.01,0.54],[-3.01,0.48],[-3.00,0.36],[-2.99,0.70],[-2.97,0.63],[-2.89,0.41],[-2.88,0.31],[-2.86,0.31],[-2.84,0.69],[-2.82,0.65],[-2.81,0.60],[-2.79,0.34],[-2.78,0.56],[-2.78,0.44],[-2.77,0.49],[-2.77,0.38],[-2.76,0.52],[-2.74,0.35],[-2.72,0.43],[-2.71,0.32],[-2.70,0.47],[-2.69,0.40],[-2.67,0.63],[-2.66,0.51],[-2.64,0.61],[-2.63,0.38],[-2.62,0.45],[-2.60,0.34],[-2.59,0.49],[-2.58,0.58],[-2.56,0.43],[-2.55,0.53],[-2.54,0.38],[-2.53,0.58],[-2.52,0.47],[-2.51,0.53],[-2.49,0.37],[-2.48,0.61],[-2.47,0.45],[-2.46,0.52],[-2.45,0.41],[-2.44,0.57],[-2.43,0.49],[-2.42,0.38],[-2.41,0.55],[-2.40,0.45],[-2.39,0.63],[-2.38,0.34],[-2.36,0.48],[-2.35,0.58],[-2.34,0.41],[-2.32,0.52],[-2.31,0.67],[-2.30,0.38],[-2.28,0.55],[-2.28,0.31],[-2.26,0.46],[-2.25,0.61],[-2.24,0.40],[-2.22,0.51],[-2.21,0.65],[-2.20,0.37],[-2.19,0.56],[-2.18,0.45],[-2.16,0.62],[-2.15,0.40],[-2.14,0.52],[-2.12,0.66],[-2.11,0.36],[-2.09,0.47],[-2.08,0.58],[-2.07,0.43],[-2.05,0.52],[-2.04,0.63],[-2.03,0.38],[-2.01,0.49],[-2.00,0.65],[-1.99,0.45],[-1.97,0.55],[-1.96,0.40],[-1.95,0.61],[-1.93,0.47],[-1.92,0.54],[-1.90,0.38],[-1.88,0.63],[-1.85,0.49],[-1.83,0.57],[-1.80,0.43],[-1.79,0.63],[-1.76,0.52],[-1.73,0.31],[-1.72,0.60],[-1.69,0.46],[-1.65,0.63],[-1.63,0.38],[-1.59,0.52],[-1.56,0.45],[-1.53,0.60],[-1.52,0.31],[-1.48,0.54],[-1.45,0.43],[-1.41,0.48],[-1.38,0.38],[-1.33,0.63],[-1.29,0.45],[-1.22,0.58],[-1.18,0.34],[-1.14,0.49],[-1.09,0.39],[-1.02,0.49],[-0.91,0.45],[-2.87,0.55],[-2.75,0.66],[-2.68,0.33],[-2.57,0.66],[-2.50,0.31],[-2.45,0.68],[-2.37,0.32],[-2.33,0.62],[-2.27,0.42],[-2.23,0.33],[-2.17,0.50],[-2.13,0.34],[-2.06,0.60],[-2.02,0.33],[-1.98,0.52],[-1.94,0.35],[-1.87,0.45],[-1.82,0.36],[-1.78,0.48],[-1.75,0.66],[-1.70,0.40]];
const euYellowMore=[[-2.85,0.45],[-2.80,0.38],[-2.76,0.60],[-2.73,0.50],[-2.70,0.36],[-2.67,0.55],[-2.65,0.44],[-2.62,0.52],[-2.60,0.65],[-2.58,0.40],[-2.56,0.31],[-2.55,0.47],[-2.53,0.64],[-2.51,0.42],[-2.49,0.55],[-2.47,0.33],[-2.46,0.62],[-2.44,0.46],[-2.42,0.52],[-2.41,0.33],[-2.39,0.42],[-2.37,0.60],[-2.35,0.44],[-2.33,0.36],[-2.32,0.57],[-2.30,0.47],[-2.29,0.62],[-2.27,0.36],[-2.26,0.53],[-2.24,0.45],[-2.22,0.58],[-2.21,0.33],[-2.19,0.42],[-2.17,0.66],[-2.16,0.47],[-2.14,0.37],[-2.12,0.56],[-2.10,0.44],[-2.09,0.62],[-2.07,0.50],[-2.06,0.35],[-2.04,0.57],[-2.02,0.45],[-2.00,0.54],[-1.98,0.36],[-1.96,0.62],[-1.94,0.48],[-1.91,0.57],[-1.89,0.44],[-1.86,0.66],[-1.84,0.38],[-1.81,0.53],[-1.78,0.40],[-1.75,0.57],[-1.72,0.47],[-1.68,0.55]];
const euBlack=[[-1.97,0.62],[-1.89,0.67],[-1.86,0.60],[-1.86,0.43],[-1.86,0.50],[-1.79,0.46],[-1.72,0.65],[-1.71,0.64],[-1.71,0.44],[-1.67,0.46],[-1.60,0.41],[-1.60,0.46],[-1.53,0.35],[-1.47,0.36],[-1.42,0.37],[-1.36,0.34],[-1.20,0.37],[-1.25,0.43],[-1.06,0.34],[-1.02,0.30],
[-1.66,0.67],[-1.58,0.66],[-1.51,0.68],[-1.44,0.67],[-1.37,0.66],[-1.30,0.68],[-1.23,0.67],[-1.16,0.66],[-1.10,0.68],[-1.04,0.67],[-0.98,0.66],[-0.93,0.68],[-0.88,0.67],[-0.84,0.66],[-0.81,0.68],
[-1.62,0.63],[-1.54,0.62],[-1.47,0.64],[-1.40,0.63],[-1.33,0.62],[-1.26,0.64],[-1.19,0.63],[-1.13,0.62],[-1.07,0.64],[-1.01,0.63],[-0.96,0.62],[-0.91,0.64],[-0.86,0.63],[-0.82,0.62],
[-1.65,0.59],[-1.57,0.58],[-1.50,0.60],[-1.43,0.59],[-1.36,0.58],[-1.29,0.60],[-1.22,0.59],[-1.15,0.58],[-1.09,0.60],[-1.03,0.59],[-0.98,0.58],[-0.93,0.60],[-0.88,0.59],[-0.84,0.58],[-0.81,0.60],
[-1.61,0.55],[-1.53,0.54],[-1.46,0.56],[-1.39,0.55],[-1.32,0.54],[-1.25,0.56],[-1.18,0.55],[-1.12,0.54],[-1.06,0.56],[-1.00,0.55],[-0.95,0.54],[-0.90,0.56],[-0.86,0.55],[-0.82,0.54],
[-1.56,0.51],[-1.49,0.50],[-1.42,0.52],[-1.35,0.51],[-1.28,0.50],[-1.21,0.52],[-1.15,0.51],[-1.09,0.50],[-1.03,0.52],[-0.98,0.51],[-0.93,0.50],[-0.88,0.52],[-0.84,0.51],[-0.81,0.50],
[-1.52,0.47],[-1.45,0.46],[-1.38,0.48],[-1.31,0.47],[-1.24,0.46],[-1.18,0.48],[-1.12,0.47],[-1.06,0.46],[-1.00,0.48],[-0.95,0.47],[-0.90,0.46],[-0.86,0.48],[-0.82,0.47],
[-1.48,0.43],[-1.41,0.42],[-1.34,0.44],[-1.27,0.43],[-1.20,0.42],[-1.14,0.44],[-1.08,0.43],[-1.02,0.42],[-0.97,0.44],[-0.92,0.43],[-0.87,0.42],[-0.83,0.44],
[-1.44,0.39],[-1.30,0.38],[-1.23,0.40],[-1.16,0.39],[-1.10,0.38],[-1.04,0.40],[-0.99,0.39],[-0.94,0.38],[-0.89,0.40],[-0.85,0.39],[-0.81,0.38],
[-1.28,0.35],[-1.14,0.34],[-1.07,0.36],[-1.01,0.35],[-0.96,0.34],[-0.91,0.36],[-0.87,0.35],[-0.83,0.34],
[-0.98,0.31],[-0.92,0.32],[-0.88,0.31],[-0.84,0.32]];
const euBlackFill=[[-1.62,0.65],[-1.55,0.65],[-1.48,0.65],[-1.41,0.65],[-1.34,0.65],[-1.27,0.65],[-1.20,0.65],[-1.13,0.65],[-1.07,0.65],[-1.01,0.65],[-0.96,0.65],[-0.91,0.65],[-0.86,0.65],[-0.82,0.65],
[-1.58,0.61],[-1.51,0.61],[-1.44,0.61],[-1.37,0.61],[-1.30,0.61],[-1.23,0.61],[-1.16,0.61],[-1.10,0.61],[-1.04,0.61],[-0.99,0.61],[-0.94,0.61],[-0.89,0.61],[-0.84,0.61],[-0.80,0.61],
[-1.61,0.57],[-1.54,0.57],[-1.47,0.57],[-1.40,0.57],[-1.33,0.57],[-1.26,0.57],[-1.19,0.57],[-1.12,0.57],[-1.06,0.57],[-1.01,0.57],[-0.96,0.57],[-0.91,0.57],[-0.86,0.57],[-0.82,0.57],
[-1.57,0.53],[-1.50,0.53],[-1.43,0.53],[-1.36,0.53],[-1.29,0.53],[-1.22,0.53],[-1.15,0.53],[-1.09,0.53],[-1.03,0.53],[-0.98,0.53],[-0.93,0.53],[-0.88,0.53],[-0.84,0.53],[-0.80,0.53],
[-1.53,0.49],[-1.46,0.49],[-1.39,0.49],[-1.32,0.49],[-1.25,0.49],[-1.18,0.49],[-1.12,0.49],[-1.06,0.49],[-1.01,0.49],[-0.96,0.49],[-0.91,0.49],[-0.86,0.49],[-0.82,0.49],
[-1.49,0.45],[-1.42,0.45],[-1.35,0.45],[-1.28,0.45],[-1.21,0.45],[-1.15,0.45],[-1.09,0.45],[-1.03,0.45],[-0.98,0.45],[-0.93,0.45],[-0.88,0.45],[-0.84,0.45],[-0.80,0.45],
[-1.38,0.41],[-1.31,0.41],[-1.24,0.41],[-1.17,0.41],[-1.11,0.41],[-1.05,0.41],[-1.00,0.41],[-0.95,0.41],[-0.90,0.41],[-0.86,0.41],[-0.82,0.41],
[-1.20,0.37],[-1.12,0.37],[-1.05,0.37],[-0.99,0.37],[-0.94,0.37],[-0.89,0.37],[-0.85,0.37],[-0.81,0.37],
[-1.04,0.33],[-0.95,0.33],[-0.90,0.33],[-0.86,0.33],[-0.82,0.33]];
const euPurpleLit=[[-3.70,1.00],[-3.50,0.84],[-3.41,0.89],[-3.30,1.86],[-3.50,1.77],[-3.29,0.96],[-3.33,0.71],[-3.20,1.26],[-3.19,1.24],[-3.19,1.08],[-3.20,0.95],[-3.17,0.94],[-3.09,1.80],[-3.09,0.89],[-3.05,1.06],[-3.03,0.94],[-3.03,0.79],[-3.02,0.82],[-3.01,1.45],[-3.00,1.28],[-3.00,1.25],[-3.00,1.20],[-3.01,0.83],[-3.01,0.72],[-2.97,1.44],[-2.97,1.38],[-2.97,0.90],[-2.95,1.23],[-2.94,1.18],[-2.97,0.84],[-2.92,1.64],[-2.91,1.54],[-2.89,0.94],[-2.88,0.76],[-2.85,1.68],[-2.85,1.16],[-2.85,1.08],[-2.85,0.99],[-2.83,1.70],[-2.81,1.70],[-2.83,0.80],[-2.81,0.70],[-2.78,1.06],[-2.73,1.13],[-2.71,1.14],[-2.71,1.64],[-2.72,0.80],[-2.74,1.07],[-2.68,1.23],[-2.68,0.90],[-2.64,0.75],[-2.62,1.14],[-2.63,0.93],[-2.61,0.88],[-2.60,0.86],[-2.58,1.04],[-2.56,1.04],[-2.58,0.74],[-2.54,0.87],[-2.54,1.28],[-2.52,0.94],[-2.51,1.12],[-2.51,1.50],[-2.51,1.44],[-2.49,0.98],[-2.48,0.86],[-2.48,1.08],[-2.46,1.29],[-2.46,1.37],[-2.45,1.03],[-2.44,1.10],[-2.42,2.00],[-2.42,1.35],[-2.42,1.07],[-2.41,1.25],[-2.40,1.00],[-2.39,1.21],[-2.40,0.92],[-2.38,1.07],[-2.36,1.08],[-2.33,0.95],[-2.32,1.10],[-2.32,0.83],[-2.31,1.91],[-2.30,1.27],[-2.29,0.72],[-2.26,1.10],[-2.26,0.98],[-2.26,0.73],[-2.24,0.81],[-2.23,1.10],[-2.20,0.82],[-2.18,1.75],[-2.12,0.98],[-2.11,1.32],[-2.10,1.27],[-2.11,0.86],[-2.10,0.76],[-2.07,1.14],[-2.07,1.08],[-2.10,0.83],[-2.08,0.73],[-2.01,0.93],[-2.00,0.85],[-2.00,0.73],[-1.97,1.29],[-1.85,1.25],[-1.78,1.08],[-1.73,1.11],[-1.69,0.88],[-1.62,0.83],[-1.61,1.44],[-1.58,0.89],[-1.48,1.32],[-1.22,1.16],[-1.14,0.96]];
const euPurpleGalah=[[-1.85,1.36],[-1.61,1.32],[-1.53,1.25],[-1.64,1.25],[-1.61,1.23],[-1.53,1.17],[-1.36,1.16],[-1.29,1.19],[-1.31,1.82],[-0.96,1.34],[-0.89,1.37],[-1.06,1.12],[-0.99,1.13],[-1.56,1.10],[-1.44,1.12],[-1.37,1.09],[-1.57,1.04],[-1.50,1.04],[-1.22,1.04],[-1.16,1.02],[-1.30,1.00],[-1.81,1.00],[-1.86,0.98],[-1.35,0.97],[-1.47,0.97],[-1.57,0.93],[-1.28,0.92],[-1.22,0.92],[-1.09,0.93],[-1.01,0.93],[-0.99,0.92],[-0.93,0.91],[-0.90,0.97],[-0.90,1.00],[-1.90,0.89],[-1.87,0.90],[-1.84,0.86],[-1.82,0.87],[-1.91,0.82],[-1.93,0.82],[-2.25,0.88],[-2.27,0.88],[-2.01,0.86],[-2.02,0.93],[-2.07,1.08],[-1.79,0.74],[-1.87,0.72],[-1.89,0.79],[-1.92,0.74],[-1.69,0.74],[-1.62,0.83],[-1.64,0.77],[-1.55,0.82],[-1.53,0.84],[-1.49,0.79],[-1.46,0.90],[-1.42,0.88],
[-1.58,0.72],[-1.50,0.73],[-1.43,0.72],[-1.37,0.73],[-1.31,0.72],[-1.25,0.73],[-1.19,0.72],[-1.13,0.73],[-1.07,0.72],[-1.01,0.73],[-0.96,0.72],[-0.91,0.73],[-0.86,0.72],[-0.82,0.73],
[-1.55,0.76],[-1.46,0.77],[-1.40,0.76],[-1.34,0.77],[-1.28,0.76],[-1.22,0.77],[-1.16,0.76],[-1.10,0.77],[-1.04,0.76],[-0.99,0.77],[-0.94,0.76],[-0.89,0.77],[-0.84,0.76],
[-1.38,0.80],[-1.32,0.81],[-1.26,0.80],[-1.20,0.81],[-1.14,0.80],[-1.08,0.81],[-1.02,0.80],[-0.97,0.81],[-0.92,0.80],[-0.87,0.81],[-0.83,0.80],
[-1.34,0.84],[-1.28,0.85],[-1.21,0.84],[-1.15,0.85],[-1.09,0.84],[-1.03,0.85],[-0.97,0.84],[-0.92,0.85],[-0.87,0.84],
[-1.30,0.88],[-1.23,0.89],[-1.15,0.88],[-1.08,0.89],[-0.99,0.88],[-0.93,0.89],[-0.86,0.88]];
const euPurpleFill=[[-1.53,0.74],[-1.46,0.74],[-1.40,0.74],[-1.34,0.74],[-1.28,0.74],[-1.22,0.74],[-1.16,0.74],[-1.10,0.74],[-1.04,0.74],[-0.98,0.74],[-0.93,0.74],[-0.88,0.74],[-0.84,0.74],[-0.80,0.74],
[-1.43,0.78],[-1.37,0.78],[-1.31,0.78],[-1.25,0.78],[-1.19,0.78],[-1.13,0.78],[-1.07,0.78],[-1.01,0.78],[-0.96,0.78],[-0.91,0.78],[-0.86,0.78],[-0.82,0.78],
[-1.35,0.82],[-1.29,0.82],[-1.23,0.82],[-1.17,0.82],[-1.11,0.82],[-1.05,0.82],[-0.99,0.82],[-0.94,0.82],[-0.89,0.82],[-0.85,0.82],
[-1.25,0.86],[-1.18,0.86],[-1.12,0.86],[-1.06,0.86],[-1.00,0.86],[-0.94,0.86],[-0.89,0.86],[-0.84,0.86],
[-1.19,0.90],[-1.11,0.90],[-1.03,0.90],[-0.96,0.90],[-0.89,0.90]];
const euGreenLit=[[-2.81,2.23]];
const euGreenGalah=[[-0.84,2.24]];

// tick values
const xTicksWide=[-4.0,-3.5,-3.0,-2.5,-2.0,-1.5,-1.0];
const xTicksY=[-3.5,-3.0,-2.5,-2.0,-1.5,-1.0];
const yTicksC=[-1.0,-0.5,0.0,0.5,1.0,1.5,2.0,2.5];
const yTicksMg=[0.0,0.5,1.0,1.5,2.0];
const yTicksSr=[-3,-2,-1,0,1,2];
const yTicksY=[-1.0,-0.5,0.0,0.5,1.0];
const yTicksBa=[-1.5,-1.0,-0.5,0.0,0.5,1.0,1.5,2.0];
const yTicksEu=[0.25,0.50,0.75,1.00,1.25,1.50,1.75,2.00,2.25];

// ---------------- DRAWING ----------------
const FONT="DejaVu Sans", FS=12.5, SX=1.22;
const COL={y:"#bfbf00",k:"#000000",r:"#ff0000",p:"#800080",g:"#008000",b:"#0000ff",o:"#ffa500"};
const svg=d3.select("#chart");
svg.append("rect").attr("width",1139).attr("height",1121).attr("fill","#fff");

function addText(parent,x,y,anchor,parts,rot){
  const t=parent.append("text")
    .attr("transform",`translate(${x},${y}) scale(${SX},1)`+(rot?" rotate(-90)":""))
    .attr("text-anchor",anchor).attr("font-family",FONT).attr("font-size",FS).attr("fill","#000");
  if(rot) t.attr("dominant-baseline","central");
  parts.forEach(p=>{
    const s=t.append("tspan").text(p.t);
    if(p.i) s.attr("font-style","italic");
    if(p.sub) s.attr("font-size",9).attr("dy",3);
  });
  return t;
}
function drawMarks(g,x,y,data,shape,size,color){
  if(shape==="sq"){
    g.append("g").selectAll("rect").data(data).join("rect")
      .attr("x",d=>x(d[0])-size/2).attr("y",d=>y(d[1])-size/2)
      .attr("width",size).attr("height",size).attr("fill",color);
  } else {
    g.append("g").selectAll("circle").data(data).join("circle")
      .attr("cx",d=>x(d[0])).attr("cy",d=>y(d[1])).attr("r",size/2).attr("fill",color);
  }
}
function legendMark(g,cx,cy,shape,size,color){
  if(shape==="sq") g.append("rect").attr("x",cx-size/2).attr("y",cy-size/2).attr("width",size).attr("height",size).attr("fill",color);
  else g.append("circle").attr("cx",cx).attr("cy",cy).attr("r",size/2).attr("fill",color);
}
function legendBox(g,x0,y0,x1,y1){
  g.append("rect").attr("x",x0).attr("y",y0).attr("width",x1-x0).attr("height",y1-y0)
    .attr("rx",3).attr("fill","#fff").attr("fill-opacity",0.8).attr("stroke","#d0d0d0").attr("stroke-width",1);
}

function panel(c){
  const g=svg.append("g");
  const x=d3.scaleLinear().domain(c.xd).range([c.l,c.r]);
  const y=d3.scaleLinear().domain(c.yd).range([c.b,c.t]);
  const clipId="clip"+c.id;
  g.append("clipPath").attr("id",clipId).append("rect").attr("x",c.l).attr("y",c.t).attr("width",c.r-c.l).attr("height",c.b-c.t);
  const pg=g.append("g").attr("clip-path",`url(#${clipId})`);
  c.layers.forEach(L=>drawMarks(pg,x,y,L.data,L.shape,L.size,L.color));
  (c.hlines||[]).forEach(h=>{
    pg.append("line").attr("x1",c.l).attr("x2",c.r).attr("y1",y(h.v)).attr("y2",y(h.v))
      .attr("stroke",h.color).attr("stroke-width",1.6).attr("stroke-dasharray",h.dash||null);
  });
  const xa=g.append("g").attr("transform",`translate(0,${c.b})`).attr("color","#000")
    .call(d3.axisBottom(x).tickValues(c.xt).tickFormat(d3.format(".1f")).tickSize(5).tickSizeOuter(0).tickPadding(4.5));
  xa.select(".domain").remove();
  xa.selectAll("text").attr("font-family",FONT).attr("font-size",FS).attr("transform",`scale(${SX},1)`);
  const ya=g.append("g").attr("transform",`translate(${c.l},0)`).attr("color","#000")
    .call(d3.axisLeft(y).tickValues(c.yt).tickFormat(d3.format(c.yf)).tickSize(5).tickSizeOuter(0).tickPadding(3.2));
  ya.select(".domain").remove();
  ya.selectAll("text").attr("font-family",FONT).attr("font-size",FS).attr("transform",`scale(${SX},1)`);
  g.append("rect").attr("x",c.l).attr("y",c.t).attr("width",c.r-c.l).attr("height",c.b-c.t)
    .attr("fill","none").attr("stroke","#262626").attr("stroke-width",1.1);
  addText(g,(c.l+c.r)/2,c.b+36.5,"middle",[{t:"[Fe/H]"}]);
  addText(g,c.ylx,(c.t+c.b)/2,"middle",c.ylab,true);
  const a=c.ann;
  addText(g,a.x,a.y1,a.anchor,[{t:"N",i:1},{t:" (GALAH DR3) = "+a.n1}]);
  addText(g,a.x,a.y1+16.3,a.anchor,[{t:"N",i:1},{t:" (Literature) = "+a.n2}]);
  if(c.extra) c.extra(g);
  return {g,x,y};
}

const L1=80.7,R1=560.7,L2=656.7,R2=1137;
const T1=1.5,B1=317.3,T2=380.8,B2=701,T3=760.8,B3=1080;
const xdA=[-4.211,-0.627], xdB=[-4.200,-0.651];

panel({id:1,l:L1,r:R1,t:T1,b:B1,xd:xdA,yd:[-1.213,2.81],xt:xTicksWide,yt:yTicksC,yf:".1f",
  ylx:17.2,ylab:[{t:"[C/Fe]"},{t:"c",i:1,sub:1}],
  layers:[{data:cBlack,shape:"sq",size:5,color:COL.k},{data:cBlackFill,shape:"sq",size:5,color:COL.k},
          {data:cYellow,shape:"c",size:3.3,color:COL.y},{data:cYellowMore,shape:"c",size:3.3,color:COL.y},
          {data:cRedLit,shape:"c",size:4,color:COL.r},{data:cRedGalah,shape:"sq",size:7,color:COL.r}],
  hlines:[{v:0,color:"#000"},{v:0.7,color:COL.b,dash:"7,3.5"}],
  ann:{x:552.7,y1:64,anchor:"end",n1:"1186",n2:"502"},
  extra:g=>{
    legendBox(g,404,7,553,49);
    legendMark(g,426.4,18.3,"sq",5,COL.k); addText(g,454.7,22.8,"start",[{t:"GALAH DR3"}]);
    legendMark(g,426.4,37.3,"c",3.3,COL.y); addText(g,454.7,41.8,"start",[{t:"Literature"}]);
    legendBox(g,89.4,288,189.6,311);
    legendMark(g,110.8,299.8,"sq",7,COL.r); addText(g,140,304.3,"start",[{t:"CEMP"}]);
  }});

panel({id:2,l:L2,r:R2,t:T1,b:B1,xd:xdB,yd:[-0.47,2.27],xt:xTicksWide,yt:yTicksMg,yf:".1f",
  ylx:605.9,ylab:[{t:"[Mg/Fe]"}],
  layers:[{data:mgBlack,shape:"sq",size:5,color:COL.k},{data:mgYellow,shape:"c",size:3.3,color:COL.y}],
  hlines:[{v:0,color:"#000"}],
  ann:{x:1128.7,y1:16.5,anchor:"end",n1:"1",n2:"394"}});

panel({id:3,l:L1,r:R1,t:T2,b:B2,xd:xdA,yd:[-3.14,2.547],xt:xTicksWide,yt:yTicksSr,yf:".0f",
  ylx:31.7,ylab:[{t:"[Sr/Fe]"}],
  layers:[{data:srBlack,shape:"sq",size:5,color:COL.k},{data:srYellow,shape:"c",size:3.3,color:COL.y},{data:srYellowMore,shape:"c",size:3.3,color:COL.y}],
  hlines:[{v:0,color:"#000"}],
  ann:{x:90.9,y1:396.5,anchor:"start",n1:"60",n2:"535"}});

panel({id:4,l:L2,r:R2,t:T2,b:B2,xd:[-3.714,-0.655],yd:[-1.263,1.485],xt:xTicksY,yt:yTicksY,yf:".1f",
  ylx:592,ylab:[{t:"[Y/Fe]"}],
  layers:[{data:yBlack,shape:"sq",size:5,color:COL.k},{data:yBlackFill,shape:"sq",size:5,color:COL.k},{data:yYellow,shape:"c",size:3.3,color:COL.y}],
  hlines:[{v:0,color:"#000"}],
  ann:{x:666.1,y1:396.5,anchor:"start",n1:"1168",n2:"236"}});

panel({id:5,l:L1,r:R1,t:T3,b:B3,xd:xdA,yd:[-1.743,2.164],xt:xTicksWide,yt:yTicksBa,yf:".1f",
  ylx:17.2,ylab:[{t:"[Ba/Fe]"}],
  layers:[{data:baBlack,shape:"sq",size:5,color:COL.k},{data:baBlackFill,shape:"sq",size:5,color:COL.k},
          {data:baYellow,shape:"c",size:3.3,color:COL.y},{data:baYellowMore,shape:"c",size:3.3,color:COL.y}],
  hlines:[{v:0,color:"#000"}],
  ann:{x:552.7,y1:776.5,anchor:"end",n1:"1194",n2:"582"}});

panel({id:6,l:L2,r:R2,t:T3,b:B3,xd:xdB,yd:[0.200,2.343],xt:xTicksWide,yt:yTicksEu,yf:".2f",
  ylx:595.7,ylab:[{t:"[Eu/Fe]"}],
  layers:[{data:euBlack,shape:"sq",size:5,color:COL.k},{data:euBlackFill,shape:"sq",size:5,color:COL.k},
          {data:euYellow,shape:"c",size:3.3,color:COL.y},{data:euYellowMore,shape:"c",size:3.3,color:COL.y},
          {data:euPurpleLit,shape:"c",size:3.8,color:COL.p},{data:euPurpleGalah,shape:"sq",size:5,color:COL.p},{data:euPurpleFill,shape:"sq",size:5,color:COL.p},
          {data:euGreenLit,shape:"c",size:3.8,color:COL.g},{data:euGreenGalah,shape:"sq",size:5.5,color:COL.g}],
  hlines:[{v:2.0,color:COL.o,dash:"7,3.5"},{v:0.7,color:COL.b,dash:"7,3.5"},{v:0.3,color:"#000",dash:"7,3.5"}],
  ann:{x:896.3,y1:776.5,anchor:"start",n1:"1194",n2:"582"},
  extra:g=>{
    legendBox(g,664.7,767.5,747.5,809);
    legendMark(g,686.5,778.6,"sq",4.5,COL.p); addText(g,715.5,783.1,"start",[{t:"r-II"}]);
    legendMark(g,686.5,797.8,"sq",4.5,COL.g); addText(g,715.5,802.3,"start",[{t:"r-III"}]);
  }});
</script></body></html>
